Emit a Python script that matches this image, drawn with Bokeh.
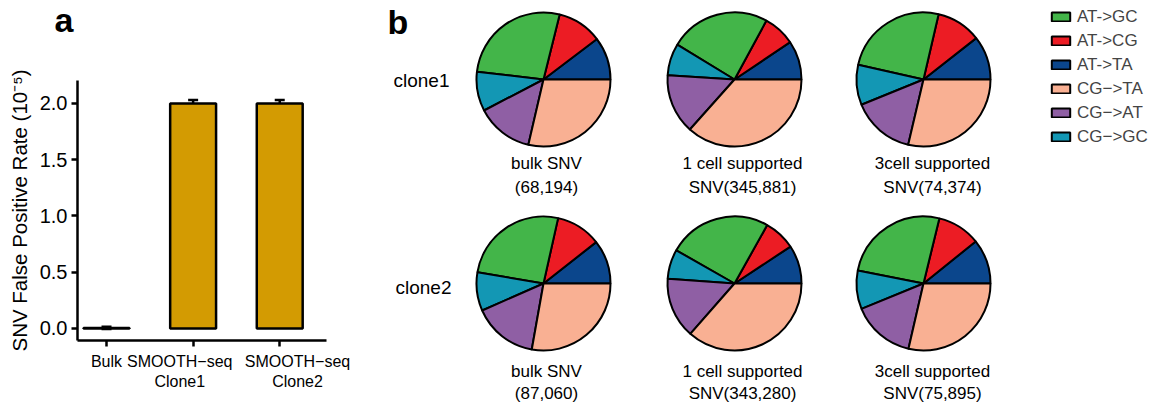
import math
from bokeh.plotting import figure
from bokeh.models import (ColumnDataSource, Range1d, FixedTicker, PrintfTickFormatter,
                          Whisker, TeeHead, Legend, LegendItem)
from bokeh.layouts import row, column
from bokeh.core.properties import value
from bokeh.embed import file_html
from bokeh.resources import INLINE

FONT = "Liberation Sans"
NB = "\u00a0"

# ---------------- data: panel a ----------------
groups = ["Bulk",
          "SMOOTH\u2212seq" + NB * 6 + "\nClone1" + NB * 6,
          NB * 8 + "SMOOTH\u2212seq\n" + NB * 8 + "Clone2"]
fp_rate = [0.005, 2.0, 2.0]
fp_err = [0.01, 0.03, 0.03]

# ---------------- data: panel b ----------------
categories = ["AT->GC", "AT->CG", "AT->TA", "CG\u2212>TA", "CG\u2212>AT", "CG\u2212>GC"]
colors = ["#43B549", "#EC1C24", "#0B468C", "#F9B093", "#8F5FA4", "#1397B4"]
# counter-clockwise drawing order starting at 3 o'clock
stack_order = ["AT->TA", "AT->CG", "AT->GC", "CG\u2212>GC", "CG\u2212>AT", "CG\u2212>TA"]

clones = ["clone1", "clone2"]
caption_line1 = ["bulk SNV", "1 cell supported", "3cell supported"]
caption_line2_clone1 = ["(68,194)", "SNV(345,881)", "SNV(74,374)"]
caption_line2_clone2 = ["(87,060)", "SNV(343,280)", "SNV(75,895)"]

# percentages in legend order (AT->GC, AT->CG, AT->TA, CG->TA, CG->AT, CG->GC)
clone1_bulk = [27.0, 10.8, 10.3, 28.6, 13.7, 9.5]
clone1_1cell = [24.2, 7.7, 9.4, 36.6, 14.4, 7.7]
clone1_3cell = [25.1, 10.8, 10.6, 28.7, 15.2, 9.7]
clone2_bulk = [25.8, 10.9, 10.6, 27.8, 15.6, 9.3]
clone2_1cell = [24.9, 7.6, 9.3, 36.5, 14.7, 7.1]
clone2_3cell = [25.7, 10.4, 10.8, 28.6, 15.2, 9.3]

pies = [[clone1_bulk, clone1_1cell, clone1_3cell],
        [clone2_bulk, clone2_1cell, clone2_3cell]]

# ---------------- panel label "a" ----------------
fa = figure(width=380, height=40, output_backend="svg", toolbar_location=None,
            x_range=Range1d(0, 380), y_range=Range1d(0, 40), min_border=0,
            x_axis_type=None, y_axis_type=None)
fa.grid.visible = False
fa.outline_line_color = None
fa.text(x=[54], y=[2], text=["a"], text_font=value(FONT), text_font_size="34px",
        text_font_style="bold", text_align="left", text_baseline="bottom", text_color="black")

# ---------------- panel a: bar chart ----------------
p = figure(width=380, height=365, output_backend="svg", toolbar_location=None,
           x_range=Range1d(-0.335, 2.54), y_range=Range1d(-0.107, 2.204),
           min_border_left=77, min_border_right=54, min_border_top=40, min_border_bottom=65)
xs = list(range(len(groups)))
src = ColumnDataSource(dict(x=xs, top=fp_rate,
                            upper=[v + e for v, e in zip(fp_rate, fp_err)],
                            lower=[v - e for v, e in zip(fp_rate, fp_err)]))
p.vbar(x="x", top="top", bottom=0, width=0.53, source=src,
       fill_color="#D39B02", line_color="black", line_width=2.5)
wk = Whisker(base="x", upper="upper", lower="lower", source=src, line_width=2.5,
             upper_head=TeeHead(size=10, line_width=2.5),
             lower_head=TeeHead(size=10, line_width=2.5))
p.add_layout(wk)

p.grid.visible = False
p.outline_line_color = None
for ax in (p.xaxis, p.yaxis):
    ax.axis_line_width = 2.5
    ax.major_tick_line_width = 2.5
    ax.major_tick_out = 6
    ax.major_tick_in = 0
    ax.minor_tick_line_color = None
    ax.major_label_text_font = FONT
    ax.axis_label_text_font = FONT
    ax.major_label_text_color = "black"
    ax.axis_label_text_color = "black"
p.xaxis.ticker = FixedTicker(ticks=xs)
p.xaxis.major_label_overrides = {i: g for i, g in enumerate(groups)}
p.xaxis.major_label_text_font_size = "16px"
p.xaxis.major_label_standoff = 6
p.yaxis.ticker = FixedTicker(ticks=[0, 0.5, 1.0, 1.5, 2.0])
p.yaxis.formatter = PrintfTickFormatter(format="%.1f")
p.yaxis.major_label_text_font_size = "20px"
p.yaxis.major_label_standoff = 4
p.yaxis.axis_label = "SNV False Positive Rate (10\u207b\u2075)"
p.yaxis.axis_label_text_font_size = "20.5px"
p.yaxis.axis_label_text_font_style = "normal"
p.yaxis.axis_label_standoff = 6

# ---------------- panel b: pies ----------------
W, H = 780, 405
q = figure(width=W, height=H, output_backend="svg", toolbar_location=None,
           x_range=Range1d(0, W), y_range=Range1d(0, H), min_border=0,
           x_axis_type=None, y_axis_type=None)
q.grid.visible = False
q.outline_line_color = None

col_x = [163, 354, 543]
row_y = [326, 122]
cap_dx = [3, 8, 9]
cap_dy1 = [84, 88]
cap_dy2 = [108, 110]
R = 67

pie_x, pie_y = [], []
starts = {c: [] for c in categories}
ends = {c: [] for c in categories}
for r, rowvals in enumerate(pies):
    for c, vals in enumerate(rowvals):
        pie_x.append(col_x[c])
        pie_y.append(row_y[r])
        total = sum(vals)
        acc = 0.0
        for name in stack_order:
            v = vals[categories.index(name)]
            starts[name].append(2 * math.pi * acc / total)
            acc += v
            ends[name].append(2 * math.pi * acc / total)

renderers = {}
for name in stack_order:
    s = ColumnDataSource(dict(x=pie_x, y=pie_y, start=starts[name], end=ends[name]))
    renderers[name] = q.wedge(x="x", y="y", radius=R, radius_units="screen",
                              start_angle="start", end_angle="end", source=s,
                              fill_color=colors[categories.index(name)],
                              line_color="black", line_width=2)

legend = Legend(items=[LegendItem(label=c, renderers=[renderers[c]]) for c in categories],
                location=(669, 257), label_text_font=FONT, label_text_font_size="17px",
                glyph_width=23, glyph_height=11, label_height=23, spacing=1,
                padding=0, margin=0, border_line_color=None, background_fill_alpha=0,
                label_standoff=5)
q.add_layout(legend)

tx, ty, tt = [], [], []
for r, line2 in enumerate([caption_line2_clone1, caption_line2_clone2]):
    for c in range(3):
        tx += [col_x[c] + cap_dx[c]] * 2
        ty += [row_y[r] - cap_dy1[r], row_y[r] - cap_dy2[r]]
        tt += [caption_line1[c], line2[c]]
q.text(x=tx, y=ty, text=tt, text_font=value(FONT), text_font_size="17px",
       text_align="center", text_baseline="middle", text_color="black")

q.text(x=[13, 15], y=[row_y[0] - 1, row_y[1] - 4], text=clones, text_font=value(FONT),
       text_font_size="19px", text_align="left", text_baseline="middle", text_color="black")

q.text(x=[7], y=[384], text=["b"], text_font=value(FONT), text_font_size="34px",
       text_font_style="bold", text_align="left", text_baseline="alphabetic", text_color="black")

layout = row(column(column(fa), column(p), spacing=0), column(q), spacing=0)
open("out.html", "w").write(file_html(layout, INLINE))
